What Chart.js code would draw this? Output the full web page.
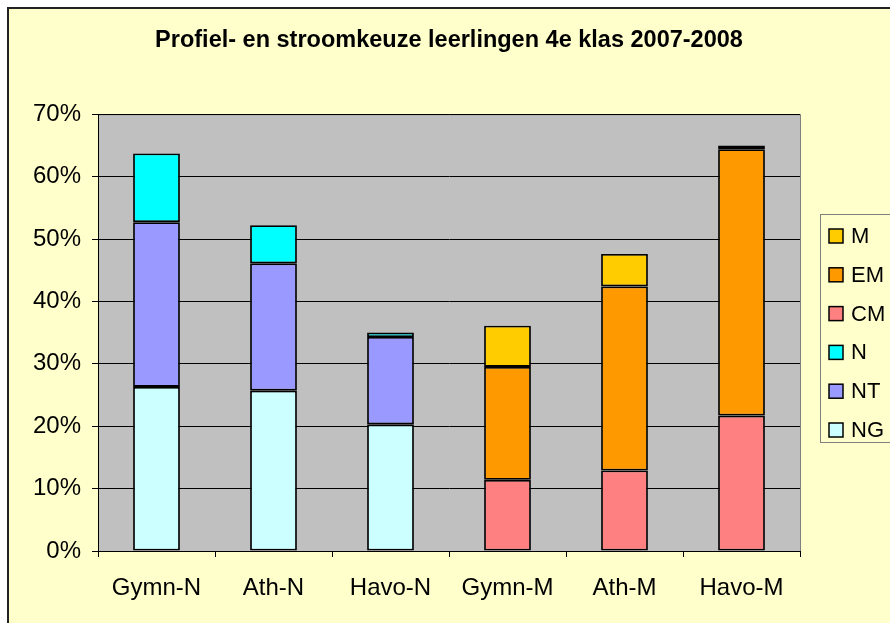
<!DOCTYPE html>
<html>
<head>
<meta charset="utf-8">
<script src="https://cdn.jsdelivr.net/npm/chart.js@4.4.0/dist/chart.umd.min.js"></script>
<style>
  html, body { margin: 0; padding: 0; background: #fff; overflow: hidden; }
  #wrap { width: 890px; height: 623px; }
</style>
</head>
<body>
<div id="wrap"><canvas id="chart" width="890" height="623"></canvas></div>
<script>
// Profielkeuze 4e klas 2007-2008 (percentages)
const categories = ['Gymn-N', 'Ath-N', 'Havo-N', 'Gymn-M', 'Ath-M', 'Havo-M'];
const ngValues = [26.3, 25.7, 20.3, null, null, null];
const ntValues = [26.4, 20.4, 14.0, null, null, null];
const nValues  = [11.0, 6.1, 0.7, null, null, null];
const cmValues = [null, null, null, 11.4, 12.9, 21.7];
const emValues = [null, null, null, 18.1, 29.5, 42.7];
const mValues  = [null, null, null, 6.6, 5.2, 0.6];
const yMax = 70;
const yStep = 10;

const FONT = "'Liberation Sans', Arial, sans-serif";

// excel-like frame, grey plot area and boxed legend
const excelFrame = {
    id: 'excelFrame',
    beforeDraw(chart) {
        const ctx = chart.ctx;
        const a = chart.chartArea;
        ctx.save();
        ctx.fillStyle = '#fff';
        ctx.fillRect(0, 0, chart.width, chart.height);
        ctx.fillStyle = '#FFFFCC';
        ctx.fillRect(8, 8, chart.width, chart.height);
        ctx.strokeStyle = '#222';
        ctx.lineWidth = 2;
        ctx.strokeRect(8, 8, chart.width + 20, chart.height + 20);
        ctx.fillStyle = '#C0C0C0';
        ctx.fillRect(a.left, a.top, a.right - a.left, a.bottom - a.top);
        ctx.strokeStyle = '#808080';
        ctx.lineWidth = 1;
        ctx.strokeRect(a.left + 0.5, a.top + 0.5, a.right - a.left, a.bottom - a.top);
        ctx.restore();
    },
    afterDraw(chart) {
        const ctx = chart.ctx;
        const a = chart.chartArea;
        const sets = chart.data.datasets.slice().reverse();
        const rowH = 38.8;
        const boxLeft = a.right + 20;
        const boxTop = 214;
        ctx.save();
        ctx.fillStyle = '#FFFFCC';
        ctx.fillRect(boxLeft, boxTop, 200, 228);
        ctx.strokeStyle = '#808080';
        ctx.lineWidth = 1;
        ctx.strokeRect(boxLeft + 0.5, boxTop + 0.5, 200, 228);
        ctx.font = '22px ' + FONT;
        ctx.textBaseline = 'middle';
        sets.forEach((ds, i) => {
            const cy = 236 + i * rowH;
            ctx.fillStyle = ds.backgroundColor;
            ctx.fillRect(boxLeft + 9, cy - 7, 14, 14);
            ctx.strokeStyle = '#000';
            ctx.lineWidth = 1.5;
            ctx.strokeRect(boxLeft + 9, cy - 7, 14, 14);
            ctx.fillStyle = '#000';
            ctx.fillText(ds.label, boxLeft + 31, cy + 1);
        });
        ctx.restore();
    }
};

function series(label, data, color) {
    return {
        label: label,
        data: data,
        backgroundColor: color,
        borderColor: '#000',
        borderWidth: 1.8,
        borderSkipped: false,
        stack: 'all',
        barPercentage: 0.4,
        categoryPercentage: 1.0
    };
}

new Chart(document.getElementById('chart').getContext('2d'), {
    type: 'bar',
    data: {
        labels: categories,
        datasets: [
            series('NG', ngValues, '#CCFFFF'),
            series('NT', ntValues, '#9999FF'),
            series('N', nValues, '#00FFFF'),
            series('CM', cmValues, '#FF8080'),
            series('EM', emValues, '#FF9900'),
            series('M', mValues, '#FFCC00')
        ]
    },
    options: {
        responsive: false,
        animation: false,
        layout: { padding: { left: 0, right: 90, top: 0, bottom: 0 } },
        plugins: {
            legend: { display: false },
            tooltip: { enabled: false },
            title: {
                display: true,
                fullSize: false,
                text: 'Profiel- en stroomkeuze leerlingen 4e klas 2007-2008',
                color: '#000',
                font: { family: FONT, size: 23.5, weight: 'bold', lineHeight: 1.2 },
                padding: { top: 26, bottom: 60 }
            }
        },
        scales: {
            x: {
                stacked: true,
                afterFit: function(scale) { scale.height = 72; },
                grid: { drawOnChartArea: false, tickLength: 6, color: '#000' },
                border: { color: '#000', width: 1 },
                ticks: {
                    color: '#000',
                    padding: 17,
                    font: { family: FONT, size: 24 },
                    maxRotation: 0
                }
            },
            y: {
                stacked: true,
                min: 0,
                max: yMax,
                afterFit: function(scale) { scale.width = 98; },
                grid: { color: '#000', lineWidth: 1, tickLength: 6 },
                border: { color: '#000', width: 1 },
                ticks: {
                    stepSize: yStep,
                    color: '#000',
                    padding: 11,
                    font: { family: FONT, size: 24 },
                    callback: function(v) { return v + '%'; }
                }
            }
        }
    },
    plugins: [excelFrame]
});
</script>
</body>
</html>
